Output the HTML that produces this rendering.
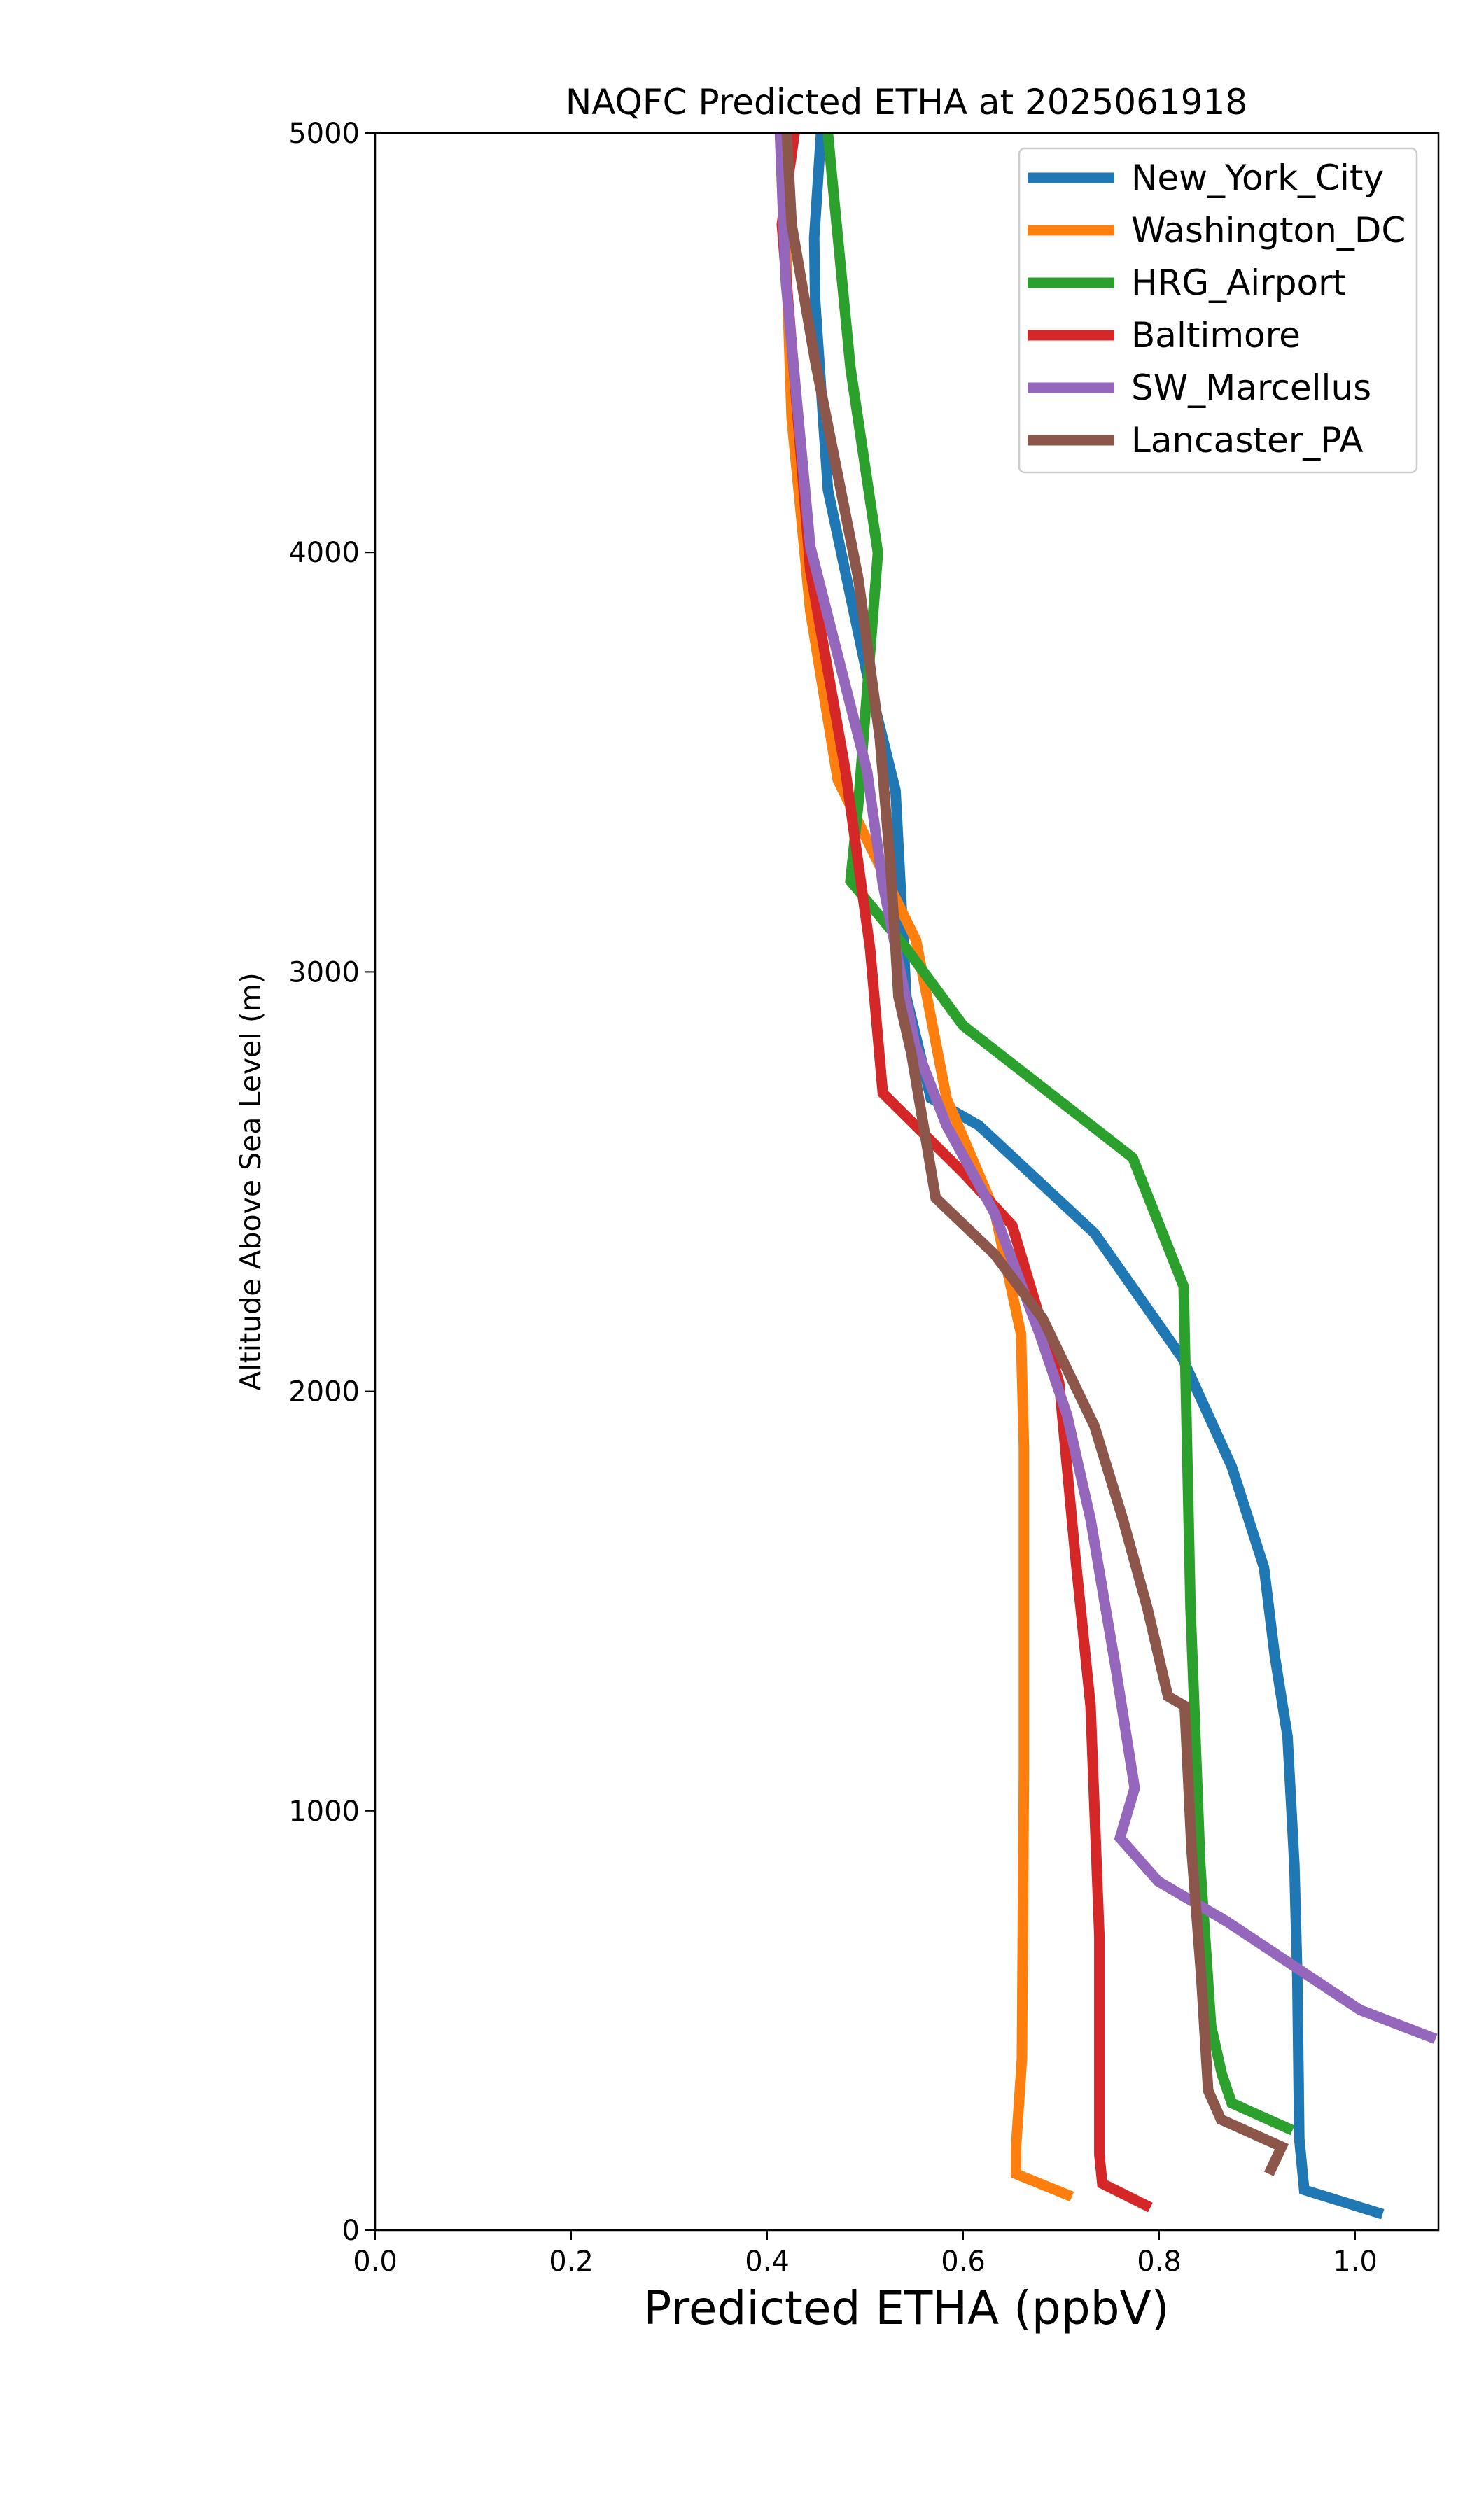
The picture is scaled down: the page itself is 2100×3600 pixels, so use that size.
<!DOCTYPE html>
<html><head><meta charset="utf-8"><style>
html,body{margin:0;padding:0;background:#fff;}
svg{display:block;font-family:"DejaVu Sans","Liberation Sans",sans-serif;}
</style></head><body>
<svg id="chart" width="2100" height="3600" viewBox="0 0 2100 3600" xmlns="http://www.w3.org/2000/svg">
<rect width="2100" height="3600" fill="#fff"/>
<defs><clipPath id="plotclip"><rect x="536" y="190" width="1519" height="2996"/></clipPath></defs>
<text x="1295" y="163" font-size="50" text-anchor="middle">NAQFC Predicted ETHA at 2025061918</text>
<g id="series" clip-path="url(#plotclip)"></g>
<rect x="536" y="190" width="1519" height="2996" fill="none" stroke="#000" stroke-width="2.5"/>
<g id="xticks"></g>
<g id="yticks"></g>
<text x="1295" y="3320" font-size="66" text-anchor="middle">Predicted ETHA (ppbV)</text>
<text x="0" y="0" font-size="41" text-anchor="middle" transform="translate(372,1688) rotate(-90)">Altitude Above Sea Level (m)</text>
<g id="legend"></g>
</svg>
<script>
const seriesNames = ["New_York_City","Washington_DC","HRG_Airport","Baltimore","SW_Marcellus","Lancaster_PA"];
const seriesColors = ["#1f77b4","#ff7f0e","#2ca02c","#d62728","#9467bd","#8c564b"];
const nycX = [1.028,0.948,0.943,0.941,0.938,0.931,0.918,0.907,0.874,0.824,0.734,0.616,0.567,0.542,0.531,0.502,0.462,0.449,0.448,0.455];
const nycY = [38,96,218,602,870,1177,1369,1580,1821,2078,2377,2634,2699,2941,3432,3708,4149,4600,4750,5000];
const dcX = [0.711,0.654,0.654,0.660,0.662,0.662,0.659,0.632,0.583,0.552,0.505,0.472,0.444,0.425,0.420,0.417];
const dcY = [80,134,199,410,1100,1867,2137,2430,2699,3075,3300,3458,3860,4320,4660,5000];
const hrgX = [0.936,0.874,0.864,0.853,0.842,0.832,0.825,0.773,0.600,0.542,0.485,0.493,0.513,0.485,0.466,0.462];
const hrgY = [238,303,372,487,870,1483,2250,2557,2872,3056,3217,3400,3999,4440,4900,5000];
const balX = [0.791,0.742,0.739,0.739,0.730,0.714,0.698,0.650,0.601,0.518,0.505,0.480,0.444,0.415,0.428];
const balY = [54,111,180,700,1250,1618,2020,2396,2519,2711,3056,3478,3957,4782,5000];
const swmX = [1.082,1.005,0.943,0.869,0.799,0.760,0.775,0.755,0.730,0.706,0.678,0.632,0.583,0.551,0.518,0.502,0.444,0.419,0.413];
const swmY = [456,525,621,736,832,935,1054,1350,1695,1944,2137,2425,2634,2826,3210,3478,4014,4647,5000];
const lanX = [0.912,0.925,0.863,0.850,0.843,0.833,0.826,0.809,0.788,0.763,0.734,0.681,0.632,0.572,0.547,0.534,0.526,0.515,0.493,0.449,0.425,0.420];
const lanY = [134,199,264,333,602,909,1250,1273,1483,1695,1917,2174,2327,2461,2807,2941,3248,3555,3938,4456,4782,5000];
const xTicks = [0.0,0.2,0.4,0.6,0.8,1.0];
const xTickLabels = ["0.0","0.2","0.4","0.6","0.8","1.0"];
const yTicks = [0,1000,2000,3000,4000,5000];
const yTickLabels = ["0","1000","2000","3000","4000","5000"];

const NS="http://www.w3.org/2000/svg";
const L=536,R=2055,T=190,B=3186,XMAX=1.085,YMAX=5000;
function sx(v){return L+v/XMAX*(R-L);}
function sy(v){return B-v/YMAX*(B-T);}
function mk(tag,attrs,parent){const e=document.createElementNS(NS,tag);for(const k in attrs)e.setAttribute(k,attrs[k]);parent.appendChild(e);return e;}

const allX=[nycX,dcX,hrgX,balX,swmX,lanX], allY=[nycY,dcY,hrgY,balY,swmY,lanY];
const sg=document.getElementById('series');
allX.forEach((xs,i)=>{
  const pts=xs.map((x,j)=>sx(x).toFixed(1)+","+sy(allY[i][j]).toFixed(1)).join(" ");
  const p=mk('polyline',{points:pts,fill:'none',stroke:seriesColors[i],'stroke-width':15,'stroke-linejoin':'miter','stroke-linecap':'butt'},sg);
  
  
});

const xg=document.getElementById('xticks');
xTicks.forEach((v,i)=>{
  const l=mk('line',{x1:sx(v),x2:sx(v),y1:B,y2:B+14,stroke:'#000','stroke-width':2},xg);
  
  
  const t=mk('text',{x:sx(v),y:B+58,'font-size':40,'text-anchor':'middle'},xg);
  t.textContent=xTickLabels[i];
  
  
});
const yg=document.getElementById('yticks');
yTicks.forEach((v,i)=>{
  const l=mk('line',{x1:L-14,x2:L,y1:sy(v),y2:sy(v),stroke:'#000','stroke-width':2},yg);
  
  
  const t=mk('text',{x:L-22,y:sy(v)+14,'font-size':40,'text-anchor':'end'},yg);
  t.textContent=yTickLabels[i];
  
  
});

const lg=document.getElementById('legend');
const box=mk('rect',{x:1456,y:212,width:568,height:463,rx:8,fill:'#fff','fill-opacity':0.8,stroke:'#ccc','stroke-width':2.5},lg);


seriesNames.forEach((n,i)=>{
  const cy=254+i*75;
  const h=mk('line',{x1:1468,x2:1592,y1:cy,y2:cy,stroke:seriesColors[i],'stroke-width':15},lg);
  
  
  const t=mk('text',{x:1616,y:cy+17,'font-size':50},lg);
  t.textContent=n;
  
  
});
</script>
</body></html>
